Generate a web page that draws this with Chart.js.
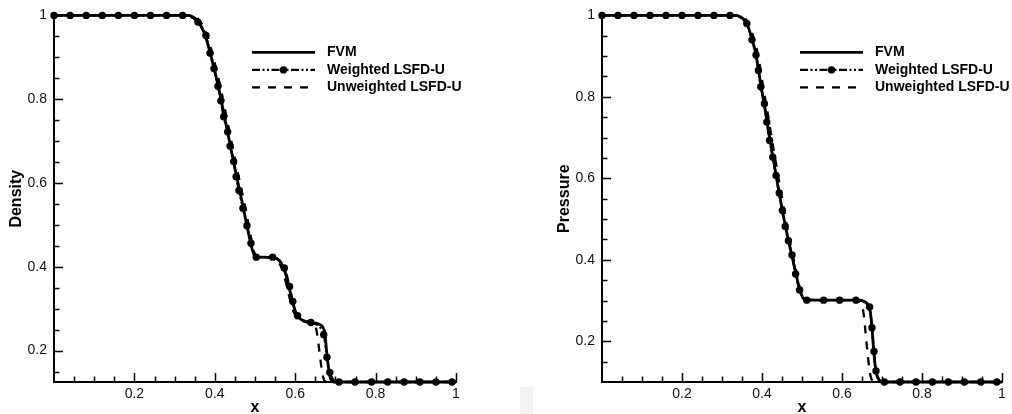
<!DOCTYPE html>
<html>
<head>
<meta charset="utf-8">
<title>Density and pressure profiles</title>
<script src="https://cdn.jsdelivr.net/npm/chart.js@4.4.1/dist/chart.umd.min.js"></script>
<style>
  body { margin: 0; background: #fff; }
  #wrap { position: relative; width: 1012px; height: 414px; overflow: hidden; }
  canvas { position: absolute; top: 0; }
  #densityChart { left: 0; }
  #pressureChart { left: 506px; }
  .smudge { position: absolute; background: #f3f3f3; }
</style>
</head>
<body>
<div id="wrap">
  <canvas id="densityChart" width="506" height="414"></canvas>
  <canvas id="pressureChart" width="506" height="414"></canvas>
  <div class="smudge" style="left:520px; top:387px; width:13px; height:27px;"></div>
</div>
<script>
const seriesNames = ["FVM", "Weighted LSFD-U", "Unweighted LSFD-U"];
const xTicks = [0.2, 0.4, 0.6, 0.8, 1];
const yTicks = [0.2, 0.4, 0.6, 0.8, 1];

// density profiles
const fvmDensityX = [0, 0.33, 0.345, 0.355, 0.365, 0.375, 0.39, 0.41, 0.43, 0.45, 0.47, 0.485, 0.495, 0.502, 0.51, 0.545, 0.56, 0.57, 0.58, 0.59, 0.6, 0.61, 0.625, 0.645, 0.66, 0.668, 0.674, 0.678, 0.682, 0.686, 0.69, 0.696, 1];
const fvmDensity = [1, 1, 0.997, 0.99, 0.975, 0.955, 0.905, 0.825, 0.73, 0.635, 0.545, 0.475, 0.435, 0.424, 0.423, 0.422, 0.415, 0.4, 0.37, 0.33, 0.295, 0.278, 0.27, 0.266, 0.263, 0.257, 0.24, 0.2, 0.165, 0.14, 0.128, 0.125, 0.125];
const weightedDensityX = [0, 0.04, 0.08, 0.12, 0.16, 0.2, 0.24, 0.28, 0.32, 0.358, 0.378, 0.388, 0.398, 0.408, 0.415, 0.422, 0.432, 0.438, 0.447, 0.453, 0.46, 0.47, 0.48, 0.49, 0.503, 0.544, 0.573, 0.586, 0.594, 0.606, 0.639, 0.671, 0.679, 0.686, 0.709, 0.749, 0.79, 0.83, 0.871, 0.91, 0.95, 0.99];
const weightedDensity = [1, 1, 1, 1, 1, 1, 1, 1, 1, 0.984, 0.952, 0.91, 0.873, 0.831, 0.796, 0.758, 0.722, 0.688, 0.651, 0.615, 0.582, 0.54, 0.498, 0.456, 0.423, 0.423, 0.397, 0.353, 0.317, 0.283, 0.267, 0.238, 0.184, 0.148, 0.125, 0.125, 0.125, 0.125, 0.125, 0.125, 0.125, 0.125];
const unweightedDensityX = [0, 0.335, 0.35, 0.36, 0.37, 0.38, 0.395, 0.415, 0.435, 0.455, 0.475, 0.488, 0.497, 0.503, 0.51, 0.54, 0.555, 0.565, 0.575, 0.585, 0.595, 0.605, 0.62, 0.64, 0.648, 0.653, 0.66, 0.666, 0.67, 0.675, 0.68, 1];
const unweightedDensity = [1, 1, 0.997, 0.99, 0.975, 0.955, 0.905, 0.825, 0.73, 0.635, 0.545, 0.48, 0.438, 0.425, 0.423, 0.422, 0.415, 0.4, 0.37, 0.33, 0.295, 0.278, 0.27, 0.265, 0.262, 0.248, 0.2, 0.155, 0.135, 0.126, 0.125, 0.125];

// pressure profiles
const fvmPressureX = [0, 0.33, 0.345, 0.355, 0.365, 0.375, 0.385, 0.397, 0.41, 0.425, 0.44, 0.455, 0.47, 0.485, 0.495, 0.502, 0.51, 0.55, 0.64, 0.655, 0.665, 0.671, 0.675, 0.679, 0.683, 0.688, 0.694, 0.7, 1];
const fvmPressure = [1, 1, 0.997, 0.99, 0.972, 0.942, 0.903, 0.83, 0.755, 0.665, 0.58, 0.5, 0.43, 0.365, 0.325, 0.307, 0.302, 0.301, 0.301, 0.298, 0.29, 0.27, 0.232, 0.18, 0.14, 0.113, 0.103, 0.1, 0.1];
const weightedPressureX = [0, 0.04, 0.08, 0.12, 0.16, 0.2, 0.24, 0.28, 0.32, 0.362, 0.375, 0.385, 0.391, 0.397, 0.406, 0.412, 0.419, 0.427, 0.435, 0.443, 0.451, 0.458, 0.466, 0.475, 0.484, 0.494, 0.512, 0.554, 0.594, 0.635, 0.669, 0.675, 0.68, 0.685, 0.706, 0.745, 0.785, 0.826, 0.866, 0.906, 0.947, 0.987];
const weightedPressure = [1, 1, 1, 1, 1, 1, 1, 1, 1, 0.98, 0.94, 0.903, 0.865, 0.825, 0.783, 0.738, 0.693, 0.652, 0.607, 0.564, 0.521, 0.482, 0.447, 0.412, 0.365, 0.326, 0.301, 0.301, 0.301, 0.301, 0.284, 0.233, 0.175, 0.127, 0.1, 0.1, 0.1, 0.1, 0.1, 0.1, 0.1, 0.1];
const unweightedPressureX = [0, 0.335, 0.35, 0.36, 0.37, 0.38, 0.39, 0.402, 0.415, 0.43, 0.445, 0.459, 0.473, 0.487, 0.496, 0.503, 0.51, 0.55, 0.628, 0.642, 0.65, 0.655, 0.659, 0.664, 0.668, 0.672, 0.677, 0.683, 1];
const unweightedPressure = [1, 1, 0.997, 0.99, 0.972, 0.942, 0.903, 0.83, 0.755, 0.665, 0.58, 0.5, 0.43, 0.365, 0.325, 0.307, 0.302, 0.301, 0.301, 0.298, 0.288, 0.26, 0.22, 0.17, 0.135, 0.112, 0.102, 0.1, 0.1];

const FONT = '"Liberation Sans", Arial, Helvetica, sans-serif';

function toPoints(xs, ys) {
  return xs.map((x, i) => ({ x: x, y: ys[i] }));
}

// legend drawn inside the plot, right of the curves
const inlineLegend = {
  id: 'inlineLegend',
  afterDraw(chart) {
    const { ctx, chartArea } = chart;
    const x0 = chartArea.left + 198;
    const rows = [37, 54.5, 72];
    ctx.save();
    chart.data.datasets.forEach((ds, i) => {
      const y = chartArea.top + rows[i];
      ctx.strokeStyle = ds.borderColor;
      ctx.lineWidth = ds.borderWidth;
      ctx.setLineDash(ds.borderDash || []);
      ctx.beginPath();
      ctx.moveTo(x0, y);
      ctx.lineTo(x0 + 63, y);
      ctx.stroke();
      if (ds.pointRadius) {
        ctx.setLineDash([]);
        ctx.fillStyle = ds.pointBackgroundColor;
        ctx.beginPath();
        ctx.arc(x0 + 31.5, y, ds.pointRadius, 0, Math.PI * 2);
        ctx.fill();
      }
      ctx.fillStyle = '#000';
      ctx.font = 'bold 14px ' + FONT;
      ctx.textBaseline = 'middle';
      ctx.fillText(ds.label, x0 + 75, y);
    });
    ctx.restore();
  }
};

// tick marks pointing into the plot, minor every 0.05
const inwardTicks = {
  id: 'inwardTicks',
  afterDraw(chart) {
    const { ctx, chartArea: a, scales: { x, y } } = chart;
    ctx.save();
    ctx.strokeStyle = '#000';
    ctx.lineWidth = 1.5;
    ctx.beginPath();
    for (let k = 1; k <= 20; k++) {
      const v = k * 0.05;
      const len = k % 4 === 0 ? 9 : 5.5;
      const px = Math.round(x.getPixelForValue(v)) + 0.5;
      ctx.moveTo(px, a.bottom);
      ctx.lineTo(px, a.bottom - len);
      if (v > y.min + 0.01) {
        const py = Math.round(y.getPixelForValue(v)) + 0.5;
        ctx.moveTo(a.left, py);
        ctx.lineTo(a.left + len, py);
      }
    }
    ctx.stroke();
    ctx.restore();
  }
};

function makeChart(id, yTitle, yMin, titlePad, rightPad, yWidth, fvm, weighted, unweighted) {
  const common = { borderColor: '#000', fill: false, clip: false, cubicInterpolationMode: 'monotone' };
  return new Chart(document.getElementById(id), {
    type: 'line',
    data: {
      datasets: [
        { ...common, label: seriesNames[0], data: fvm, borderWidth: 2.8, pointRadius: 0 },
        { ...common, label: seriesNames[1], data: weighted, borderWidth: 2.3, borderDash: [8, 2.5, 2, 2.5, 2, 2.5],
          pointRadius: 3.7, pointBackgroundColor: '#000', pointBorderWidth: 0 },
        { ...common, label: seriesNames[2], data: unweighted, borderWidth: 2.3, borderDash: [8, 8], pointRadius: 0 }
      ]
    },
    options: {
      responsive: false,
      animation: false,
      layout: { padding: { top: 15, right: rightPad, left: 0, bottom: 0 } },
      plugins: { legend: { display: false }, tooltip: { enabled: false } },
      scales: {
        x: {
          type: 'linear', min: 0, max: 1,
          afterFit: s => { s.height = 32; },
          afterBuildTicks: s => { s.ticks = xTicks.map(v => ({ value: v })); },
          grid: { display: true, drawOnChartArea: false, drawTicks: false },
          border: { display: true, width: 2, color: '#000' },
          ticks: { padding: 4, color: '#111', font: { family: FONT, size: 14 }, maxRotation: 0,
                   callback: v => String(Math.round(v * 10) / 10) },
          title: { display: true, text: 'x', color: '#000', padding: { top: 0, bottom: 0 },
                   font: { family: FONT, size: 16, weight: 'bold', lineHeight: 0.8 } }
        },
        y: {
          type: 'linear', min: yMin, max: 1,
          afterFit: s => { s.width = yWidth; },
          afterBuildTicks: s => { s.ticks = yTicks.map(v => ({ value: v })); },
          grid: { display: true, drawOnChartArea: false, drawTicks: false },
          border: { display: true, width: 2, color: '#000' },
          ticks: { padding: 7, color: '#111', font: { family: FONT, size: 14 },
                   callback: v => String(Math.round(v * 10) / 10) },
          title: { display: true, text: yTitle, color: '#000', padding: { top: titlePad, bottom: 0 },
                   font: { family: FONT, size: 16, weight: 'bold' } }
        }
      }
    },
    plugins: [inwardTicks, inlineLegend]
  });
}

makeChart('densityChart', 'Density', 0.125, 7.4, 50, 54,
  toPoints(fvmDensityX, fvmDensity),
  toPoints(weightedDensityX, weightedDensity),
  toPoints(unweightedDensityX, unweightedDensity));

makeChart('pressureChart', 'Pressure', 0.1, 49.4, 10, 96,
  toPoints(fvmPressureX, fvmPressure),
  toPoints(weightedPressureX, weightedPressure),
  toPoints(unweightedPressureX, unweightedPressure));
</script>
</body>
</html>
